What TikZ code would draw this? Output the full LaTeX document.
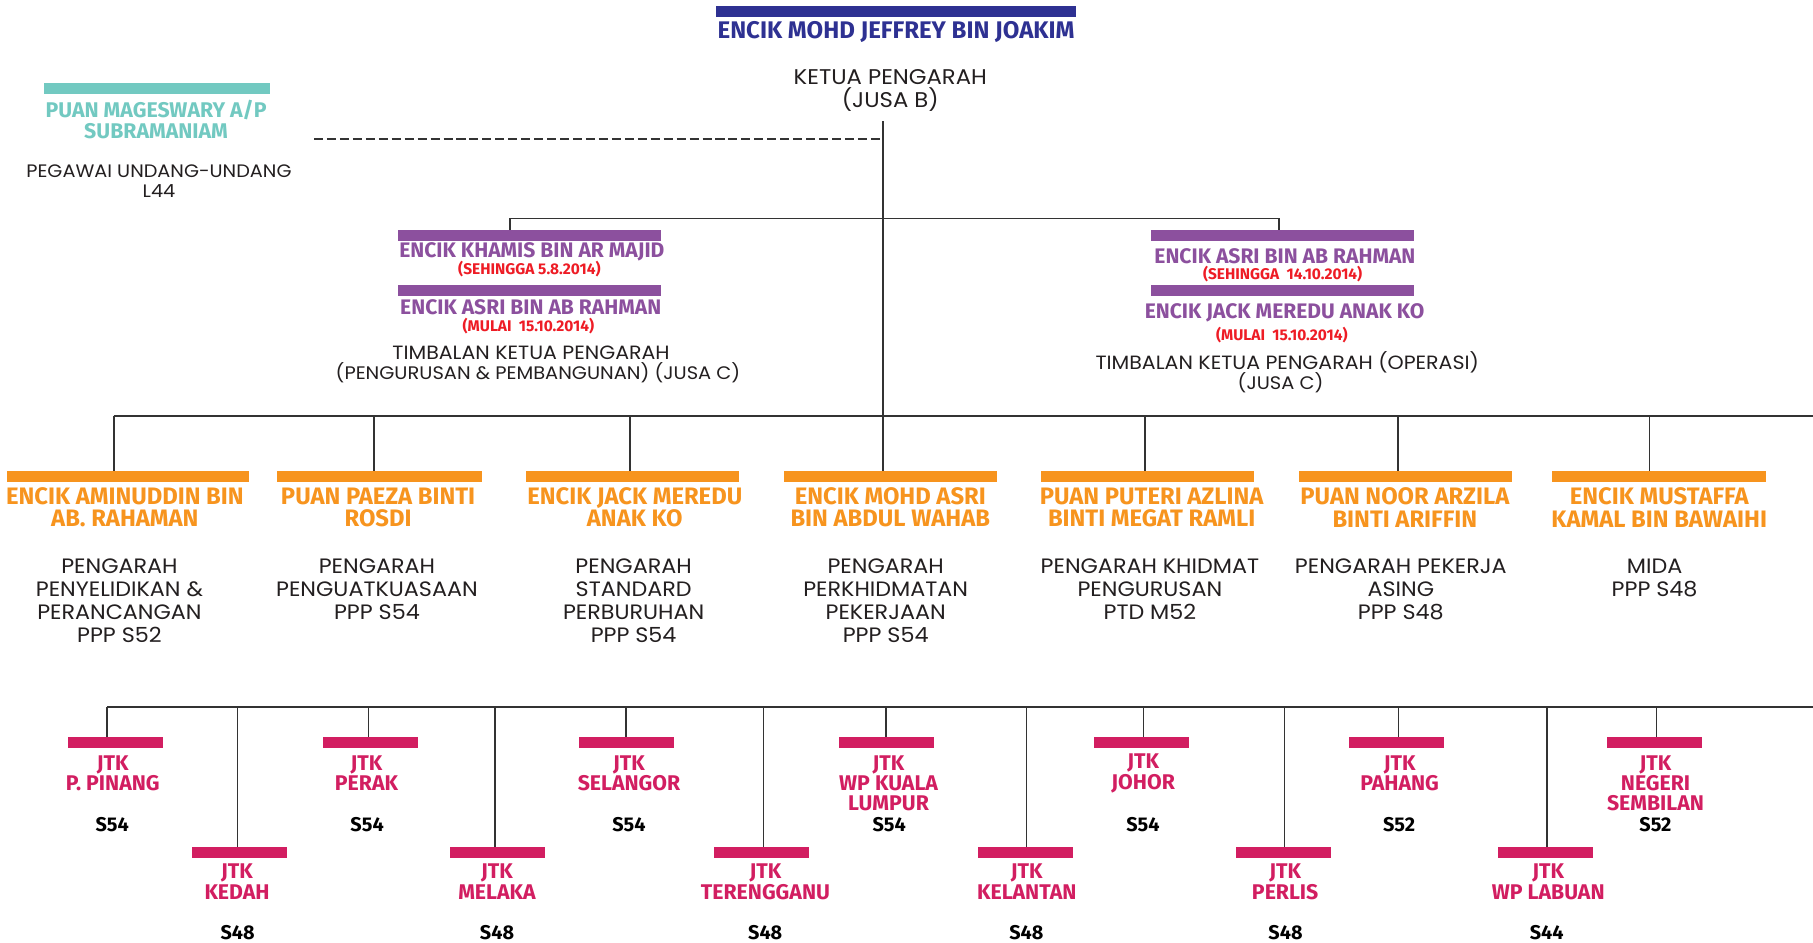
\documentclass[tikz,border=0pt]{standalone}
\usepackage{fontspec}
\setmainfont{Poppins}[FakeStretch=1.07]
\newfontfamily\fira{Fira Sans}
\usetikzlibrary{calc}
\definecolor{cblue}{HTML}{2E3192}
\definecolor{cteal}{HTML}{72C9C1}
\definecolor{cpurple}{HTML}{8C509E}
\definecolor{cred}{HTML}{EE1C25}
\definecolor{corange}{HTML}{F7941E}
\definecolor{cpink}{HTML}{D21E61}
\definecolor{ctext}{HTML}{231F20}
\definecolor{cline}{HTML}{333333}
\tikzset{
  every node/.style={inner sep=0pt, outer sep=0pt},
  conn/.style={draw=cline, line width=0.75pt},
  dashconn/.style={draw=cline, line width=0.8pt, dash pattern=on 3.9pt off 1.7pt},
  barbase/.style={anchor=north, minimum height=4.6pt},
  barB/.style={barbase, fill=cblue},
  barT/.style={barbase, fill=cteal},
  barP/.style={barbase, fill=cpurple, minimum width=114pt},
  barO/.style={barbase, fill=corange, minimum height=4.65pt},
  barK/.style={barbase, fill=cpink, minimum width=41pt},
  tBlue/.style={text=cblue, font=\fira\bfseries\fontsize{10.4}{10.4}\selectfont},
  tTeal/.style={text=cteal, align=center, font=\fira\bfseries\fontsize{9.2}{9.2}\selectfont},
  tPur/.style={text=cpurple, font=\fira\bfseries\fontsize{9.1}{9.2}\selectfont},
  tRed/.style={text=cred, font=\fira\bfseries\fontsize{6.7}{6.7}\selectfont},
  tOr/.style={text=corange, align=center, font=\fira\bfseries\fontsize{10.3}{9.8}\selectfont},
  tPink/.style={text=cpink, align=center, font=\fira\bfseries\fontsize{9.2}{8.8}\selectfont},
  tVal/.style={text=black, font=\fira\bfseries\fontsize{8.6}{8.6}\selectfont},
  tDesc/.style={text=ctext, align=center, font=\fontsize{9}{10}\selectfont},
  tHead/.style={text=ctext, align=center, font=\fontsize{9.2}{9.7}\selectfont},
  tSmall/.style={text=ctext, align=center, font=\fontsize{7.8}{8.75}\selectfont},
  tTkp/.style={text=ctext, align=center, font=\fontsize{8.3}{8.75}\selectfont},
  tTkq/.style={text=ctext, align=center, font=\fontsize{7.85}{8.75}\selectfont},
}
\begin{document}
\begin{tikzpicture}[x=0.5pt,y=-0.5pt]
\useasboundingbox (0,0) rectangle (1568,815);
\fill[white] (0,0) rectangle (1568,815);

% ---------- top ----------
\node[barB, minimum width=155.75pt] (bB) at (774.75,5.2) {};
\node[tBlue] (nJeff) at (775,28) {ENCIK MOHD JEFFREY BIN JOAKIM};
\node[tHead] (tKetua) at (770,78.3) {KETUA PENGARAH\\(JUSA B)};

% ---------- legal officer ----------
\node[barT, minimum width=97.75pt] (bT) at (135.75,72) {};
\node[tTeal] (nMag) at (135,103.2) {PUAN MAGESWARY A/P\\SUBRAMANIAM};
\node[tSmall] (tPeg) at (137.5,156.8) {PEGAWAI UNDANG-UNDANG\\L44};

% ---------- deputies ----------
\node[barP] (pL1) at (458,199) {};
\node[barP] (pL2) at (458,246.5) {};
\node[barP] (pR1) at (1109.3,199) {};
\node[barP] (pR2) at (1109.3,246.5) {};

\node[tPur] (nKhamis) at (460,217.5) {ENCIK KHAMIS BIN AR MAJID};
\node[tRed] (dKhamis) at (457.9,232.6) {(SEHINGGA 5.8.2014)};
\node[tPur] (nAsriL) at (459,266) {ENCIK ASRI BIN AB RAHMAN};
\node[tRed] (dAsriL) at (457,282.2) {(MULAI\ \ 15.10.2014)};
\node[tTkp] (tTkp1) at (459.3,304.7) {TIMBALAN KETUA PENGARAH};
\node[tTkq] (tTkp2) at (465.3,322) {(PENGURUSAN \& PEMBANGUNAN) (JUSA C)};

\node[tPur] (nAsriR) at (1111.3,221.9) {ENCIK ASRI BIN AB RAHMAN};
\node[tRed] (dAsriR) at (1109.3,237.2) {(SEHINGGA\ \ 14.10.2014)};
\node[tPur] (nJackR) at (1111,270.5) {ENCIK JACK MEREDU ANAK KO};
\node[tRed] (dJackR) at (1108.6,289.6) {(MULAI\ \ 15.10.2014)};
\node[tTkp] (tTko1) at (1113.3,313.7) {TIMBALAN KETUA PENGARAH (OPERASI)};
\node[tTkq] (tTko2) at (1107.5,331) {(JUSA C)};

% ---------- directors ----------
\node[barO, minimum width=104.5pt] (o1) at (110.5,407.3) {};
\node[barO, minimum width=88.35pt] (o2) at (328.15,407.3) {};
\node[barO, minimum width=92.15pt] (o3) at (546.85,407.3) {};
\node[barO, minimum width=92pt] (o4) at (770,407.3) {};
\node[barO, minimum width=92.15pt] (o5) at (992.45,407.3) {};
\node[barO, minimum width=92.15pt] (o6) at (1215.55,407.3) {};
\node[barO, minimum width=92.2pt] (o7) at (1434.7,407.3) {};

\node[tOr] (n1) at (108,438.8) {ENCIK AMINUDDIN BIN\\AB. RAHAMAN};
\node[tOr] (n2) at (327,438.8) {PUAN PAEZA BINTI\\ROSDI};
\node[tOr] (n3) at (549,438.8) {ENCIK JACK MEREDU\\ANAK KO};
\node[tOr] (n4) at (770,438.8) {ENCIK MOHD ASRI\\BIN ABDUL WAHAB};
\node[tOr] (n5) at (996,438.8) {PUAN PUTERI AZLINA\\BINTI MEGAT RAMLI};
\node[tOr] (n6) at (1215,438.8) {PUAN NOOR ARZILA\\BINTI ARIFFIN};
\node[tOr] (n7) at (1435,438.8) {ENCIK MUSTAFFA\\KAMAL BIN BAWAIHI};

\node[tDesc] (d1) at (103.3,519.8) {PENGARAH\\PENYELIDIKAN \&\\PERANCANGAN\\PPP S52};
\node[tDesc] (d2) at (326,509.5) {PENGARAH\\PENGUATKUASAAN\\PPP S54};
\node[tDesc] (d3) at (548,519.8) {PENGARAH\\STANDARD\\PERBURUHAN\\PPP S54};
\node[tDesc] (d4) at (766,519.8) {PENGARAH\\PERKHIDMATAN\\PEKERJAAN\\PPP S54};
\node[tDesc] (d5) at (994.5,509.5) {PENGARAH KHIDMAT\\PENGURUSAN\\PTD M52};
\node[tDesc] (d6) at (1211.5,509.5) {PENGARAH PEKERJA\\ASING\\PPP S48};
\node[tDesc] (d7) at (1431,499.6) {MIDA\\PPP S48};

% ---------- state offices ----------
\node[barK] (kPP) at (99.8,637.4) {};
\node[barK] (kPR) at (320.45,637.4) {};
\node[barK] (kSL) at (541.85,637.4) {};
\node[barK] (kKL) at (766.7,637.4) {};
\node[barK] (kJH) at (987.15,637.4) {};
\node[barK] (kPH) at (1207.75,637.4) {};
\node[barK] (kNS) at (1430.85,637.4) {};
\node[barK] (kKD) at (207.25,732.5) {};
\node[barK] (kML) at (430.4,732.5) {};
\node[barK] (kTR) at (658.55,732.5) {};
\node[barK] (kKN) at (886.9,732.5) {};
\node[barK] (kPL) at (1109.95,732.5) {};
\node[barK] (kLB) at (1336.65,732.5) {};

\node[tPink] (sPP) at (97.5,668.8) {JTK\\P. PINANG};
\node[tPink] (sPR) at (317,668.8) {JTK\\PERAK};
\node[tPink] (sSL) at (544,668.8) {JTK\\SELANGOR};
\node[tPink] (sKL) at (768.5,677.5) {JTK\\WP KUALA\\LUMPUR};
\node[tPink] (sJH) at (988.7,668.8) {JTK\\JOHOR};
\node[tPink] (sPH) at (1210.5,668.8) {JTK\\PAHANG};
\node[tPink] (sNS) at (1431.8,677.5) {JTK\\NEGERI\\SEMBILAN};
\node[tPink] (sKD) at (205,762.5) {JTK\\KEDAH};
\node[tPink] (sML) at (429.8,762.5) {JTK\\MELAKA};
\node[tPink] (sTR) at (662,762.5) {JTK\\TERENGGANU};
\node[tPink] (sKN) at (888,762.5) {JTK\\KELANTAN};
\node[tPink] (sPL) at (1111.5,762.5) {JTK\\PERLIS};
\node[tPink] (sLB) at (1339,762.5) {JTK\\WP LABUAN};

\node[tVal] (vPP) at (97,713.3) {S54};
\node[tVal] (vPR) at (317.5,713.3) {S54};
\node[tVal] (vSL) at (544,713.3) {S54};
\node[tVal] (vKL) at (769,713.3) {S54};
\node[tVal] (vJH) at (988.5,713.3) {S54};
\node[tVal] (vPH) at (1210,713.3) {S52};
\node[tVal] (vNS) at (1431.7,713.3) {S52};
\node[tVal] (vKD) at (205.5,806.6) {S48};
\node[tVal] (vML) at (429.9,806.6) {S48};
\node[tVal] (vTR) at (661.8,806.6) {S48};
\node[tVal] (vKN) at (887.7,806.6) {S48};
\node[tVal] (vPL) at (1111.8,806.6) {S48};
\node[tVal] (vLB) at (1337.7,806.6) {S44};

% ---------- connectors ----------
\coordinate (vTop) at (763.6,105);
\draw[conn] (vTop) -- (vTop |- o4.north);
\coordinate (dashL) at (271.6,120);
\draw[dashconn] (dashL) -- (dashL -| vTop);

\coordinate (busA) at (441,189);
\coordinate (busB) at (1106,189);
\draw[conn] (busA |- pL1.north) -- (busA) -- (busB) -- (busB |- pR1.north);

\coordinate (busC) at (98.3,359.8);
\coordinate (busCe) at (1568,359.8);
\draw[conn] (busC) -- (busCe);
\draw[conn] (busC) -- (busC |- o1.north);
\coordinate (dr2) at (323.2,359.8);
\coordinate (dr3) at (544.6,359.8);
\coordinate (dr5) at (990.4,359.8);
\coordinate (dr6) at (1209,359.8);
\coordinate (dr7) at (1426.6,359.8);
\draw[conn] (dr2) -- (dr2 |- o2.north);
\draw[conn] (dr3) -- (dr3 |- o3.north);
\draw[conn] (dr5) -- (dr5 |- o5.north);
\draw[conn] (dr6) -- (dr6 |- o6.north);
\draw[conn] (dr7) -- (dr7 |- o7.north);

\coordinate (busD) at (92.8,611.4);
\coordinate (busDe) at (1568,611.4);
\draw[conn] (busD) -- (busDe);
\draw[conn] (busD) -- (busD |- kPP.north);
\foreach \nm/\xx in {kKD/205.5,kPR/318.7,kML/428.4,kSL/541.1,kTR/660.3,kKL/766,kKN/887.7,kJH/988.9,kPL/1110.8,kPH/1209.5,kLB/1337.9,kNS/1432.7}{
  \coordinate (dd\nm) at (\xx,611.4);
  \draw[conn] (dd\nm) -- (dd\nm |- \nm.north);
}
\end{tikzpicture}
\end{document}
